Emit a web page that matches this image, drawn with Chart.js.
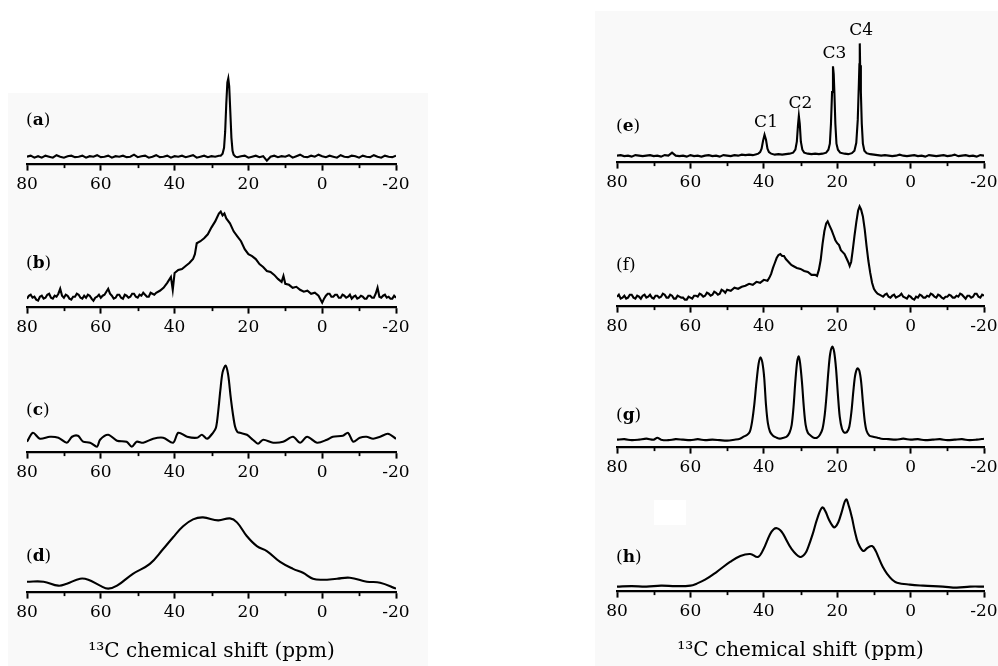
<!DOCTYPE html>
<html>
<head>
<meta charset="utf-8">
<script src="https://cdn.jsdelivr.net/npm/chart.js@4.4.1/dist/chart.umd.min.js"></script>
<style>
html, body { margin: 0; padding: 0; background: #fff; }
body { width: 998px; height: 666px; position: relative; overflow: hidden; font-family: "DejaVu Serif", serif; }
.bg { position: absolute; background: #f9f9f9; }
canvas { position: absolute; }
.lbl { position: absolute; font-size: 17px; line-height: 17px; color: #000; white-space: nowrap; }
</style>
</head>
<body>
<div class="bg" style="left:8px;top:93px;width:420px;height:573px"></div>
<div class="bg" style="left:595px;top:11px;width:403px;height:655px"></div>
<div style="position:absolute;left:654px;top:500px;width:32px;height:25px;background:#fff"></div>
<script>
// 13C chemical shift (ppm) and intensity (a.u.)
var shiftA = [80,79,78,77,76,75,74,73,72,71,70,69,68,67,66,65,64,63,62,61,60,59,58,57,56,55,54,53,52,51,50,49,48,47,46,45,44,43,42,41,40,39,38,37,36,35,34,33,32,31,30,29,28,
    27.5,27,26.6,26.3,26,25.7,25.45,25.2,24.9,24.6,24.3,24,23.5,
    23,22,21,20,19,18,17,16,15,14,13,12,11,10,9,8,7,6,5,4,3,2,1,0,-1,-2,-3,-4,-5,-6,-7,-8,-9,-10,-11,-12,-13,-14,-15,-16,-17,-18,-19,-20];
var intensityA = [7,8,6,7.5,6,8,7,6,8.5,7, 6,7.5,8,6.5,7,8,6,7.5,7,8.5, 6.5,7,8,6,7.5,7,8,6.5,7,9, 6.5,7.5,8,6,7,8.5,6.5,7,8,6, 7.5,7,8,6.5,7.5,8.5,6,7,8,6.5, 7.5,7,8,
    8,10,16,32,60,82,86,78,52,26,13,9,7,
    6.5,7.5,8,6,7,8,6.5,7.5,3,7, 8,6.5,7.5,7,8.5,6,7.5,9,7,6.5, 8,7,9,7.5,6.5,8,7,6,8.5,7, 6.5,8,7.5,6,8,7,6.5,8.5,7,6, 8,7,6.5,8];

var shiftB = [80,79.5,79,78.5,78,77.5,77,76.5,76,75.5, 75,74.5,74,73.5,73,72.5,72,71.5,71,70.5,
    70,69.5,69,68.5,68,67.5,67,66.5,66,65.5, 65,64.5,64,63.5,63,62.5,62,61.5,61,60.5,
    60,59.5,59,58.5,58,57.5,57,56.5,56,55.5, 55,54.5,54,53.5,53,52.5,52,51.5,51,50.5,
    50,49.5,49,48.5,48,47.5,47,46.5,46,45.5, 45,
    44,43,42,41,40.5,40,39,38,37,36,35,34.5,34,33,32,31,30,29,28.5,28,27.5,27,26.5,
    26,25,24,23,22,21,20,19,18,17,16,15,14,13,12,11,10.5,
    10,9,8,7,6,5,4,3,2,1,0,
    -0.5,-1,-1.5,-2,-2.5,-3,-3.5,-4,-4.5,-5, -5.5,-6,-6.5,-7,-7.5,-8,-8.5,-9,-9.5,-10,
    -10.5,-11,-11.5,-12,-12.5,-13,-13.5,-14,-14.5,-15, -15.5,-16,-16.5,-17,-17.5,-18,-18.5,-19,-19.5,-20];
var intensityB = [8,11,12,9,10,7,6,10,11,8, 9,12,13,9,8,11,10,13,18,11,
    9,12,11,8,7,10,10,13,12,9, 8,11,9,12,11,8,6,9,10,12,
    9,11,12,15,18,13,11,8,9,12, 12,9,8,12,11,9,10,13,13,10,
    9,12,11,14,12,10,10,14,13,12, 14,
    16,19,24,30,17,34,37,38,41,44,48,53,64,66,69,73,80,86,90,94,96,92,94,
    89,84,76,71,66,58,53,51,48,43,40,36,35,32,28,25,31,
    23,22,19,20,17,15,16,13,14,11,4,
    8,11,13,13,10,10,12,12,9,9, 12,11,9,10,12,8,10,11,8,9,
    11,10,8,8,11,11,9,9,13,19, 10,9,11,12,9,10,8,8,11,9];

var shiftC = [80,78.4,76.5,73.8,71.5,69.2,67.8,66.2,64.8,62.9,61,60.2,58,55.6,53,51.6,50.3,48.5,45.8,43.1,
    40.4,39,36.6,33.9,32.6,31.2,29.6,28.8,28.2,27.6,27,26.2,25.5,24.8,24.2,23.6,23,22.3,20.4,18.8,
    17.4,16,13.3,10.6,7.9,6,4.1,1.4,-1.3,-2.9,-5.6,-7,-8.4,-10.2,-12,-13.8,-15.7,-17.8,-20];
var intensityC = [10,19,13,15,14,9,15,16,10,9,5,12,17,11,10,5,10,9,13,14,
    9,19,15,14,17,13,19,24,40,62,80,87,78,55,38,25,20,19,17,12,
    8,12,9,10,15,9,15,9,12,15,16,19,10,14,15,13,15,18,13];

var shiftD = [80,75.5,71.5,69.2,65.6,63.4,60.2,58,55.6,51.3,46.7,43.1,40.4,37.7,35,32.3,28.2,25,23.1,20.4,
    17.7,15,11.4,7.9,5.2,2.5,-0.2,-4,-7.5,-12.1,-15.7,-20];
var intensityD = [10,10,6,8,13,12,6,3,6,18,28,43,55,66,73,75,72,74,70,56,
    46,41,30,23,19,13,12,13,14,10,9,3];

var shiftE = [80,79,78,77,76,75,74,73,72,71,70,69,68,67,66,65,64,63,62,61,60,59,58,57,56,55,54,53,52,51,50,49,48,47,46,45,44,43,42,
    41.5,41,40.6,40.2,39.8,39.4,39,38.6,38,37,36,35,34,33,32,
    31.4,31,30.7,30.45,30.2,29.9,29.5,29,28,27,26,25,24,23,
    22.4,22,21.7,21.4,21.15,20.95,20.75,20.5,20.2,19.8,19.2,18,17,16,
    15.3,14.8,14.4,14.1,13.95,13.85,13.75,13.55,13.3,13,12.6,12,
    11,10,9,8,7,6,5,4,3,2,1,0,-1,-2,-3,-4,-5,-6,-7,-8,-9,-10,-11,-12,-13,-14,-15,-16,-17,-18,-19,-20];
var intensityE = [6,6.5,5.5,6,5,6.5,6,5.5,6,6.5, 5.5,6,5,6.5,6,9,6,5.5,6,5, 6.5,5.5,6,5,6,6.5,5.5,6,5,6.5, 6,5.5,6.5,6,7,6.5,7,6.5,7.5,
    8,9.5,13,21,27,22,13,9.5,8,7,7.5,7,7.5,8,9,
    12,20,36,46,38,20,12,9,8,7.5,8,7.5,8,9,
    12,18,38,70,96,88,68,38,18,12,9,8,7.5,8.5,
    11,19,42,78,98,119,97,70,38,18,11,8.5,
    7.5,7,6.5,6,6.5,6,5.5,6,7,6, 5.5,6,6.5,5.5,6,5,6.5,6,5.5,6, 6.5,5.5,6,7,5.5,6,6.5,5.5,6,5, 6.5,6];
var peakNamesE = ["C1", "C2", "C3", "C4"];
var peakShiftsE = [39.8, 30.45, 21.15, 13.85];

var shiftF = [80,79.5,79,78.5,78,77.5,77,76.5,76,75.5, 75,74.5,74,73.5,73,72.5,72,71.5,71,70.5,
    70,69.5,69,68.5,68,67.5,67,66.5,66,65.5, 65,64.5,64,63.5,63,62.5,62,61.5,61,60.5,
    60,59.5,59,58.5,58,57.5,57,56.5,56,55.5, 55,54.5,54,53.5,53,52.5,52,51.5,51,50.5, 50,
    49,48,47,46,45,44,43,42,41,40,39,
    38.5,38,37.5,37,36.5,36,35.5,35,34.5,34,33.5,33,32.5,32,31,30,29,28,27,26,25.5,
    25,24.5,24,23.5,23,22.6,22,21.5,21,20.5,20,19.5,19,18.5,18,17.5,17,16.6,
    16.2,15.8,15.3,14.8,14.3,13.9,13.5,13,12.5,12,11.5,11,10.5,10,9.5,9,
    8.5,8,7.5,7,6.5,6,5.5,5,4.5,4, 3.5,3,2.5,2,1.5,1,0.5,0,-0.5,-1,
    -1.5,-2,-2.5,-3,-3.5,-4,-4.5,-5,-5.5,-6, -6.5,-7,-7.5,-8,-8.5,-9,-9.5,-10,-10.5,-11,
    -11.5,-12,-12.5,-13,-13.5,-14,-14.5,-15,-15.5,-16, -16.5,-17,-17.5,-18,-18.5,-19,-19.5,-20];
var intensityF = [9,11,7,8,10,7,8,11,11,8, 7,10,9,7,10,11,8,9,11,8,
    7,10,10,8,9,12,11,8,8,11, 10,7,7,10,9,8,8,6,6,9,
    8,7,10,10,9,12,11,9,10,13, 12,10,11,14,13,11,12,16,15,13, 16,
    15,18,17,19,20,22,21,24,23,26,25,
    28,32,38,43,48,51,52,50,50,47,45,43,41,40,38,37,35,34,31,31,30,
    36,46,62,75,83,85,80,76,71,66,63,61,56,54,52,48,44,40,
    44,55,70,84,96,100,97,90,77,60,45,33,23,17,14,12,
    11,10,9,11,12,9,8,10,11,8, 9,10,12,9,8,7,10,9,7,6,
    9,8,11,10,8,8,10,9,12,11, 9,8,11,10,8,7,9,9,11,10,
    8,8,10,9,12,11,9,7,10,10, 8,9,12,12,9,8,11,10];

var shiftG = [80,78,76,74,72,70,69,68,66,64,62,60,58,56,54,52,50,48,46.5,45.5,
    44.5,43.8,43.2,42.6,42,41.4,40.9,40.4,39.9,39.4,38.9,38.3,37.5,36.5,35.6,34.6,33.8,33,32.4,31.9,
    31.4,30.9,30.5,30.1,29.6,29.1,28.6,28,27.2,26.4,25.5,24.7,24,23.4,22.9,22.4,21.9,21.3,20.8,20.3,
    19.8,19.3,18.7,18,17.3,16.7,16.1,15.6,15.1,14.5,14,13.5,13,12.5,12,11.2,10.2,9,8,6,
    4,2,0,-2,-4,-6,-8,-10,-12,-14,-16,-18,-20];
var intensityG = [7,7.5,6.5,7,8,7,9,7,6.5,7.5,7,6.5,7.5,6.5,7,6.5,6,7,8,10,
    12,15,25,42,65,84,90,85,70,42,24,15,11,9,8,9,10,14,22,40,
    66,86,91,84,65,40,22,14,11,9,9,12,18,32,52,76,94,101,95,78,
    52,30,18,14,15,20,36,56,72,79,77,66,45,26,16,11,10,9,8,7.5,
    7,8,7,7.5,6.5,7,7.5,6.5,7,7.5,6.5,7,8];

var shiftH = [80,76,72,68,64,60,58.3,56,52.8,49.2,46.4,43.7,41.6,40.2,38.3,37.3,36.4,35.5,34.7,32.4,
    30.1,28.8,27.9,26.6,25.5,24.1,23.2,22.3,21.2,20.6,19.7,18.8,17.6,16.8,16,15.2,14.3,12.9,11.8,10.5,
    9.5,8.8,7.6,6.4,5,3.7,0.2,-3.4,-8.8,-12.6,-16.2,-20];
var intensityH = [4,4.5,4,5,4.5,5,7,11,19,29,35,37,34,41,57,62,63,61,57,42,
    34,37,44,58,72,84,80,72,65,64,69,79,92,85,74,60,48,40,43,45,
    40,34,24,17,11,8,6,5,4,3,4,4];

var majorTicks = [80, 60, 40, 20, 0, -20];
var axisTitle = "\u00B9\u00B3C chemical shift (ppm)";

var FONT = "DejaVu Serif";
var PAD = 26;

// where each panel sits on the page
var panels = [
    {letter: "a", bold: true, shift: shiftA, inten: intensityA, x80: 27, w: 369, axisY: 164, above: 100, tension: 0, lx: 26, ly: 111},
    {letter: "b", bold: true, shift: shiftB, inten: intensityB, x80: 27, w: 369, axisY: 307, above: 105, tension: 0, lx: 26, ly: 254},
    {letter: "c", bold: true, shift: shiftC, inten: intensityC, x80: 27, w: 369, axisY: 452, above: 100, tension: 0.3, lx: 26, ly: 401},
    {letter: "d", bold: true, shift: shiftD, inten: intensityD, x80: 27, w: 369, axisY: 592, above: 90, tension: 0.4, lx: 26, ly: 547, title: true},
    {letter: "e", bold: true, shift: shiftE, inten: intensityE, x80: 617, w: 367, axisY: 162, above: 155, tension: 0, lx: 616, ly: 117, peaks: true},
    {letter: "f", bold: false, shift: shiftF, inten: intensityF, x80: 617, w: 367, axisY: 306, above: 110, tension: 0, lx: 616, ly: 256},
    {letter: "g", bold: true, shift: shiftG, inten: intensityG, x80: 617, w: 367, axisY: 447, above: 110, tension: 0.3, lx: 616, ly: 406},
    {letter: "h", bold: true, shift: shiftH, inten: intensityH, x80: 617, w: 367, axisY: 591, above: 100, tension: 0.4, lx: 616, ly: 548, title: true}
];

// short ticks every 10 ppm between the labelled ones
var minorTicks = {
    id: "minorTicks",
    afterDraw: function (chart) {
        var xs = chart.scales.x, c = chart.ctx;
        c.save();
        c.strokeStyle = "#000";
        c.lineWidth = 1.8;
        xs.ticks.forEach(function (t) {
            if (majorTicks.indexOf(t.value) < 0) {
                var px = Math.round(xs.getPixelForValue(t.value)) + 0.5;
                c.beginPath();
                c.moveTo(px, xs.top);
                c.lineTo(px, xs.top + 4.5);
                c.stroke();
            }
        });
        c.restore();
    }
};

// C1..C4 above the peaks of (e)
var peakLabels = {
    id: "peakLabels",
    afterDatasetsDraw: function (chart) {
        var xs = chart.scales.x, ys = chart.scales.y, c = chart.ctx;
        c.save();
        c.fillStyle = "#000";
        c.font = "17px '" + FONT + "'";
        c.textAlign = "center";
        c.textBaseline = "alphabetic";
        for (var i = 0; i < peakNamesE.length; i++) {
            var s = peakShiftsE[i], top = 0;
            for (var j = 0; j < shiftE.length; j++)
                if (Math.abs(shiftE[j] - s) < 0.3 && intensityE[j] > top)
                    top = intensityE[j];
            c.fillText(peakNamesE[i], xs.getPixelForValue(s) + 1.5, ys.getPixelForValue(top) - 8);
        }
        c.restore();
    }
};

function makePanel(p) {
    var cv = document.createElement("canvas");
    cv.width = p.w + 2 * PAD;
    cv.height = p.above + (p.title ? 80 : 40);
    document.body.appendChild(cv);

    var pts = [];
    for (var i = 0; i < p.shift.length; i++)
        pts.push({x: p.shift[i], y: p.inten[i]});

    var xScale = {
        type: "linear", reverse: true, min: -20, max: 80,
        ticks: {
            stepSize: 10, autoSkip: false, maxRotation: 0, color: "#000", padding: 4,
            font: {family: FONT, size: 17},
            callback: function (v) { return majorTicks.indexOf(v) >= 0 ? String(v) : ""; }
        },
        grid: {
            drawOnChartArea: false, drawTicks: true, tickLength: 7, tickWidth: 2,
            tickColor: function (ctx) { return (ctx.tick && majorTicks.indexOf(ctx.tick.value) >= 0) ? "#000" : "rgba(0,0,0,0)"; }
        },
        border: {display: true, color: "#000", width: 2.2}
    };
    if (p.title)
        xScale.title = {display: true, text: axisTitle, color: "#000", font: {family: FONT, size: 20}, padding: {top: 13, bottom: 0}};

    var chart = new Chart(cv, {
        type: "line",
        data: {datasets: [{data: pts, borderColor: "#000", borderWidth: 2.1, pointRadius: 0, tension: p.tension, fill: false}]},
        options: {
            responsive: false, animation: false, events: [],
            layout: {padding: {left: PAD, right: PAD, top: 0, bottom: 0}},
            plugins: {legend: {display: false}, tooltip: {enabled: false}},
            scales: {x: xScale, y: {display: false, min: 0, max: p.above}}
        },
        plugins: p.peaks ? [minorTicks, peakLabels] : [minorTicks]
    });

    var left = chart.chartArea.left, bottom = chart.chartArea.bottom;
    chart.options.scales.y.max = chart.chartArea.bottom - chart.chartArea.top;   // 1 a.u. per px
    chart.update();
    cv.style.left = (p.x80 - left) + "px";
    cv.style.top = (p.axisY - bottom) + "px";

    var lb = document.createElement("div");
    lb.className = "lbl";
    lb.style.left = p.lx + "px";
    lb.style.top = p.ly + "px";
    lb.innerHTML = "(" + (p.bold ? "<b>" + p.letter + "</b>" : p.letter) + ")";
    document.body.appendChild(lb);
}

panels.forEach(makePanel);
</script>
</body>
</html>
